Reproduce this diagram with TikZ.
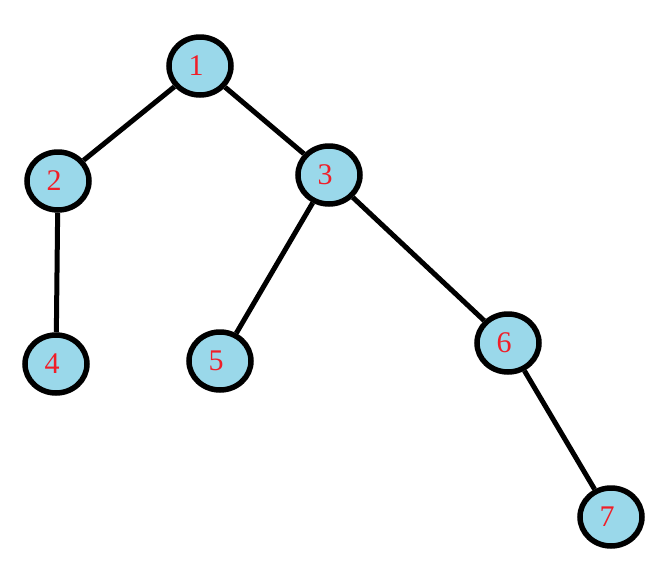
\documentclass[tikz,border=0pt]{standalone}
\usepackage{fontspec}
\setmainfont{Liberation Serif}
\usetikzlibrary{shapes.geometric}
\definecolor{nodeblue}{RGB}{154,216,234}
\definecolor{digitred}{RGB}{240,30,40}
\newcommand{\digitfont}{\fontsize{30}{30}\selectfont}

\begin{document}
\begin{tikzpicture}[
    x=1pt, y=-1pt,
    vertex/.style={ellipse, draw=black, line width=5.5pt, fill=nodeblue, minimum width=62pt, minimum height=58pt, inner sep=0pt, text=digitred, font=\digitfont, execute at begin node={\kern-8pt}},
    edge/.style={line width=5pt}
  ]
    \useasboundingbox (0,0) rectangle (665,587);
    \node[vertex] (n1) at (200,66) {\raisebox{-2pt}{1}};
    \node[vertex] (n2) at (58,181) {\raisebox{-2pt}{2}};
    \node[vertex] (n3) at (329,175) {\raisebox{-2pt}{3}};
    \node[vertex] (n4) at (56,364) {\raisebox{-2pt}{4}};
    \node[vertex] (n5) at (220,361) {\raisebox{-2pt}{5}};
    \node[vertex] (n6) at (508,343) {\raisebox{-2pt}{6}};
    \node[vertex] (n7) at (611,517) {\raisebox{-2pt}{7}};

    \draw[edge] (n1) -- (n2);
    \draw[edge] (n1) -- (n3);
    \draw[edge] (n2) -- (n4);
    \draw[edge] (n3) -- (n5);
    \draw[edge] (n3) -- (n6);
    \draw[edge] (n6) -- (n7);
  \end{tikzpicture}
\end{document}
